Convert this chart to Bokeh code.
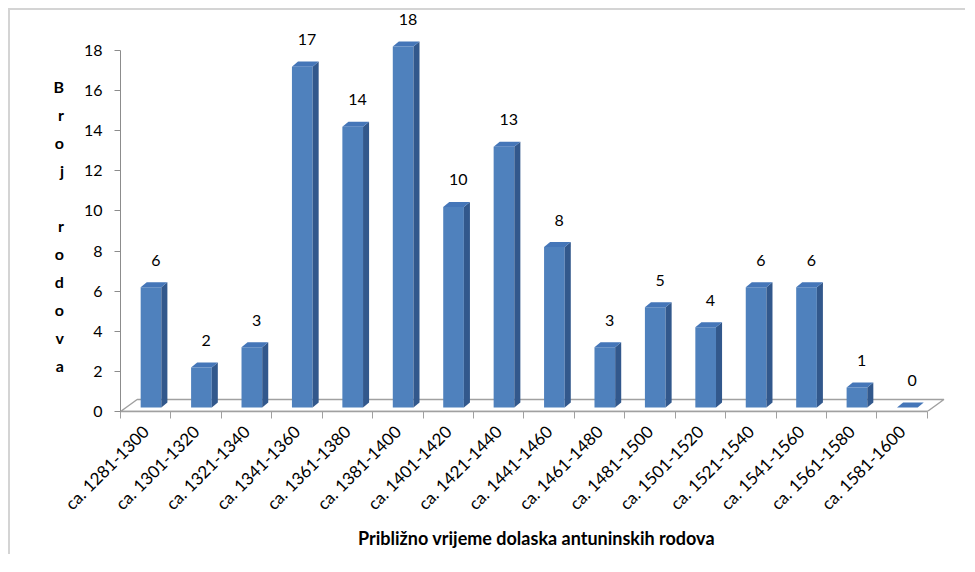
import numpy as np
from bokeh.plotting import figure
from bokeh.models import Range1d, FixedTicker, LabelSet, ColumnDataSource
from bokeh.core.properties import value
from bokeh.embed import file_html
from bokeh.resources import INLINE

# ---- data ----
categories = ["ca. 1281-1300", "ca. 1301-1320", "ca. 1321-1340", "ca. 1341-1360",
              "ca. 1361-1380", "ca. 1381-1400", "ca. 1401-1420", "ca. 1421-1440",
              "ca. 1441-1460", "ca. 1461-1480", "ca. 1481-1500", "ca. 1501-1520",
              "ca. 1521-1540", "ca. 1541-1560", "ca. 1561-1580", "ca. 1581-1600"]
counts = [6, 2, 3, 17, 14, 18, 10, 13, 8, 3, 5, 4, 6, 6, 1, 0]
y_ticks = [0, 2, 4, 6, 8, 10, 12, 14, 16, 18]
x_title = "Približno vrijeme dolaska antuninskih rodova"
y_title = "Broj rodova"

FONT = "Lato"
FRONT = "#4F81BD"
SIDE = "#32588C"
TOP = "#4576B8"
GRAY = "#A0A0A0"

n = len(categories)
idx = np.arange(n)
v = np.array(counts, dtype=float)

p = figure(width=957, height=546, x_range=Range1d(-0.5, 16.0), y_range=Range1d(0, 19.9),
           output_backend="svg", toolbar_location=None,
           min_border_left=110, min_border_right=15, min_border_top=2, min_border_bottom=145)
p.styles = {"margin-left": "8px", "margin-top": "8px",
            "border-top": "2px solid #d4d4d4", "border-left": "2px solid #d4d4d4"}
p.outline_line_color = None
p.xgrid.visible = False
p.ygrid.visible = False
p.background_fill_color = "white"
p.border_fill_color = "white"

# floor of the 3D plot
p.patch(x=[-0.5, 15.5, 15.83, -0.17], y=[0, 0, 0.6, 0.6], fill_color="white",
        line_color=GRAY, line_width=1.4)

# 3D bars
dx, dy = 0.12, 0.25
base = 0.2
left = idx - 0.10
right = idx + 0.31
top = v + base
p.quad(left=left, right=right, bottom=base, top=top, fill_color=FRONT, line_color=None)
side_xs = [[r, r + dx, r + dx, r] for r in right]
side_ys = [[base, base + dy, t + dy, t] for t in top]
p.patches(xs=side_xs, ys=side_ys, fill_color=SIDE, line_color=None)
top_xs = [[l, l + dx, r + dx, r] for l, r in zip(left, right)]
top_ys = [[t, t + dy, t + dy, t] for t in top]
p.patches(xs=top_xs, ys=top_ys, fill_color=TOP, line_color=None)

# value labels
src = ColumnDataSource(dict(x=idx + 0.2, y=top + 1.35, text=[str(c) for c in counts]))
p.add_layout(LabelSet(x="x", y="y", text="text", source=src, text_align="center",
                      text_baseline="middle", text_font=value(FONT),
                      text_font_size=value("16px"), text_color="#000000"))

# y axis
ya = p.yaxis[0]
ya.ticker = FixedTicker(ticks=y_ticks)
ya.bounds = (0, 18)
ya.axis_line_color = "#8C8C8C"
ya.major_tick_line_color = "#8C8C8C"
ya.major_tick_out = 6
ya.major_tick_in = 0
ya.minor_tick_line_color = None
ya.major_label_text_font = FONT
ya.major_label_text_font_size = "16px"
ya.major_label_text_color = "#000000"
ya.major_label_standoff = 12
ya.axis_label = "\n" + "\n".join(list(y_title))
ya.axis_label_orientation = "horizontal"
ya.axis_label_text_font = FONT
ya.axis_label_text_font_size = "16px"
ya.axis_label_text_font_style = "bold"
ya.axis_label_text_color = "#000000"
ya.axis_label_text_line_height = 1.47
ya.axis_label_text_align = "center"
ya.axis_label_standoff = 17

# x axis
xa = p.xaxis[0]
xa.ticker = FixedTicker(ticks=list(range(n)), minor_ticks=[i - 0.5 for i in range(n + 1)])
xa.major_label_overrides = {i: c for i, c in enumerate(categories)}
xa.bounds = (-0.5, n - 0.5)
xa.axis_line_color = GRAY
xa.axis_line_width = 1.4
xa.major_tick_line_color = None
xa.major_tick_out = 7
xa.minor_tick_line_color = GRAY
xa.minor_tick_out = 7
xa.minor_tick_in = 0
xa.major_label_orientation = np.pi / 4
xa.major_label_text_font = FONT
xa.major_label_text_font_size = "17px"
xa.major_label_text_color = "#000000"
xa.major_label_standoff = 10
xa.axis_label = x_title
xa.axis_label_text_font = FONT
xa.axis_label_text_font_size = "18px"
xa.axis_label_text_font_style = "bold"
xa.axis_label_text_color = "#000000"
xa.axis_label_standoff = 3

open("out.html", "w").write(file_html(p, INLINE))
